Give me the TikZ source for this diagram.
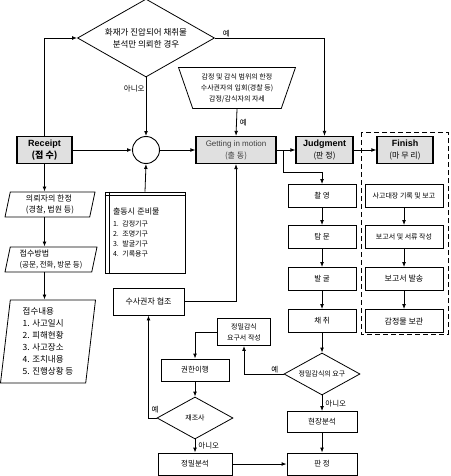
\documentclass[tikz,border=0pt]{standalone}
\usepackage{fontspec}
\setmainfont{Noto Sans CJK KR}
\newfontfamily\lat{Liberation Sans}
\usetikzlibrary{shapes.geometric,arrows.meta,positioning}

\begin{document}
\begin{tikzpicture}[x=1pt,y=-1pt,
    >={Latex[length=5pt,width=3.8pt]},
    every node/.style={font=\fontsize{7.5}{10}\selectfont, inner sep=1pt},
    stage/.style={draw, line width=1.2pt, fill=black!12, minimum height=27, align=center},
    work/.style={draw, line width=0.8pt, fill=white, minimum height=23, align=center},
    ask/.style={draw, diamond, line width=0.8pt, inner sep=0pt, align=center},
    io/.style={draw, trapezium, line width=0.8pt, trapezium stretches body, align=left, inner xsep=8pt},
    line/.style={->, line width=0.8pt}]
    \useasboundingbox (0,0) rectangle (450,476);

    \node[ask, aspect=1.75, minimum width=137, minimum height=78, font=\fontsize{8.5}{12}\selectfont] (fire) at (146,38) {화재가 진압되어 채취물\\분석만 의뢰한 경우};
    \node[stage, minimum width=55, font=\bfseries\fontsize{9}{12}\selectfont] (recv) at (44.5,150) {{\lat Receipt}\\(접 수)};
    \node[draw, circle, line width=0.9pt, minimum size=27, inner sep=0pt] (join) at (146,150) {};
    \node[stage, minimum width=80, text=black!75, font=\fontsize{8}{12}\selectfont] (move) at (236,150) {{\lat Getting in motion}\\(출 동)};
    \node[stage, minimum width=57, font=\fontsize{8}{12}\selectfont] (judge) at (324.5,150) {{\lat\bfseries\fontsize{9}{12}\selectfont Judgment}\\(판 정)};
    \node[stage, minimum width=56, font=\fontsize{8}{12}\selectfont] (fin) at (405,150) {{\lat\bfseries\fontsize{9}{12}\selectfont Finish}\\(마 무 리)};
    \node[draw, trapezium, line width=0.8pt, trapezium angle=69, shape border rotate=180, trapezium stretches=true,
      minimum width=118, minimum height=41, align=center, font=\fontsize{7}{11}\selectfont] (range) at (237,88)
      {감정 및 감식 범위의 한정\\수사권자의 입회(경찰 등)\\감정/감식자의 자세};

    % left column
    \node[io, trapezium left angle=76, trapezium right angle=104, minimum width=90, minimum height=25,
      font=\fontsize{8}{11}\selectfont] (who) at (50,204.5) {의뢰자의 한정\\(경찰, 법원 등)};
    \node[io, trapezium left angle=76, trapezium right angle=104, minimum width=92, minimum height=25,
      font=\fontsize{7.5}{11}\selectfont] (how) at (51,259.5) {{\fontsize{8}{11}\selectfont 접수방법}\\(공문, 전화, 방문 등)};
    \node[io, trapezium left angle=82, trapezium right angle=98, minimum width=95, minimum height=83,
      font=\fontsize{8.5}{12}\selectfont] (what) at (48,341.5) {접수내용\\1. 사고일시\\2. 피해현황\\3. 사고장소\\4. 조치내용\\5. 진행상황 등};

    \node[draw, line width=0.8pt, minimum width=80, minimum height=81, text width=64, inner xsep=8pt, align=left,
      font=\fontsize{7}{10}\selectfont] (kit) at (145,232.5)
      {{\fontsize{8}{10}\selectfont 출동시 준비물}\\[2pt]1. 감정기구\\2. 조명기구\\3. 발굴기구\\4. 기록용구};
    \draw[line width=0.8pt] ([xshift=5pt]kit.north west) -- ([xshift=5pt]kit.south west);
    \draw[line width=0.8pt] ([yshift=-4pt]kit.north west) -- ([yshift=-4pt]kit.north east);

    \node[work, minimum width=71, minimum height=27, font=\fontsize{8}{10}\selectfont] (coop) at (148.5,301.5) {수사권자 협조};

    % field work
    \node[work, minimum width=68] (shoot) at (322,196) {촬 영};
    \node[work, minimum width=68] (inquire) at (322,237) {탐 문};
    \node[work, minimum width=68] (dig) at (322,279) {발 굴};
    \node[work, minimum width=68] (take) at (322,321) {채 취};
    \node[ask, aspect=1.8, minimum width=76, minimum height=42, font=\fontsize{7}{10}\selectfont] (need) at (322,374) {정밀감식의 요구};
    \node[work, minimum width=70, minimum height=21] (site) at (322,422) {현장분석};
    \node[work, minimum width=70, minimum height=22] (verdict) at (322,464) {판 정};

    \node[work, minimum width=53, minimum height=27, font=\fontsize{7}{11}\selectfont] (req) at (244,332) {정밀감식\\요구서 작성};
    \node[work, minimum width=68, minimum height=22] (auth) at (195,370) {권한이행};
    \node[ask, aspect=1.8, minimum width=76, minimum height=42, font=\fontsize{7}{10}\selectfont] (again) at (195,418) {재조사};
    \node[work, minimum width=74, minimum height=22] (lab) at (195,464) {정밀분석};

    % finish
    \draw[dash pattern=on 5pt off 3pt, line width=0.9pt] (361,132) rectangle (448,334);
    \node[work, minimum width=78, font=\fontsize{7}{10}\selectfont] (log) at (404,196) {사고대장 기록 및 보고};
    \node[work, minimum width=78, font=\fontsize{7}{10}\selectfont] (write) at (404,237) {보고서 및 서류 작성};
    \node[work, minimum width=78, font=\fontsize{8}{10}\selectfont] (send) at (404,279) {보고서 발송};
    \node[work, minimum width=78, font=\fontsize{8}{10}\selectfont] (keep) at (404,321) {감정물 보관};

    \coordinate (split) at (283,150);
    \coordinate (bend) at (283,172);

    \draw[line] (recv.north) |- (fire.west);
    \draw[line] (fire.east) -| node[pos=0.03, above right] {예} (judge.north);
    \draw[line] (fire.south) -- node[pos=0.2, left] {아니오} (join.north);
    \draw[line] (recv) -- (join);
    \draw[line] (join) -- (move);
    \draw[line] (kit.north) -- (join.south);
    \draw[line] (range.south) -- node[right=2pt] {예} (move.north);
    \draw[line] (move) -- (judge);
    \draw[line] (judge) -- (fin);
    \draw[line] (split) -- (bend) -| (shoot.north);
    \foreach \a/\b in {shoot/inquire, inquire/dig, dig/take, take/need, site/verdict, log/write, write/send, send/keep, auth/again}
      \draw[line] (\a) -- (\b);
    \draw[line] (need.west) -| node[pos=0.05, above left] {예} (req.south);
    \draw[line] (need.south) -- node[right=2pt] {아니오} (site.north);
    \draw[line] (req.west) -| (auth.north);
    \draw[line] (again.west) -| node[pos=0.1, above=4pt] {예} (coop.south);
    \draw[line] (coop.east) -| (move.south);
    \draw[line] (again.south) -- node[right=2pt] {아니오} (lab.north);
    \draw[line] (lab) -- (verdict);
    \draw[line] (recv.south) -- (recv.south |- who.north);
    \draw[line] (recv.south |- who.south) -- (recv.south |- how.north);
    \draw[line] (recv.south |- how.south) -- (recv.south |- what.north);
\end{tikzpicture}
\end{document}
